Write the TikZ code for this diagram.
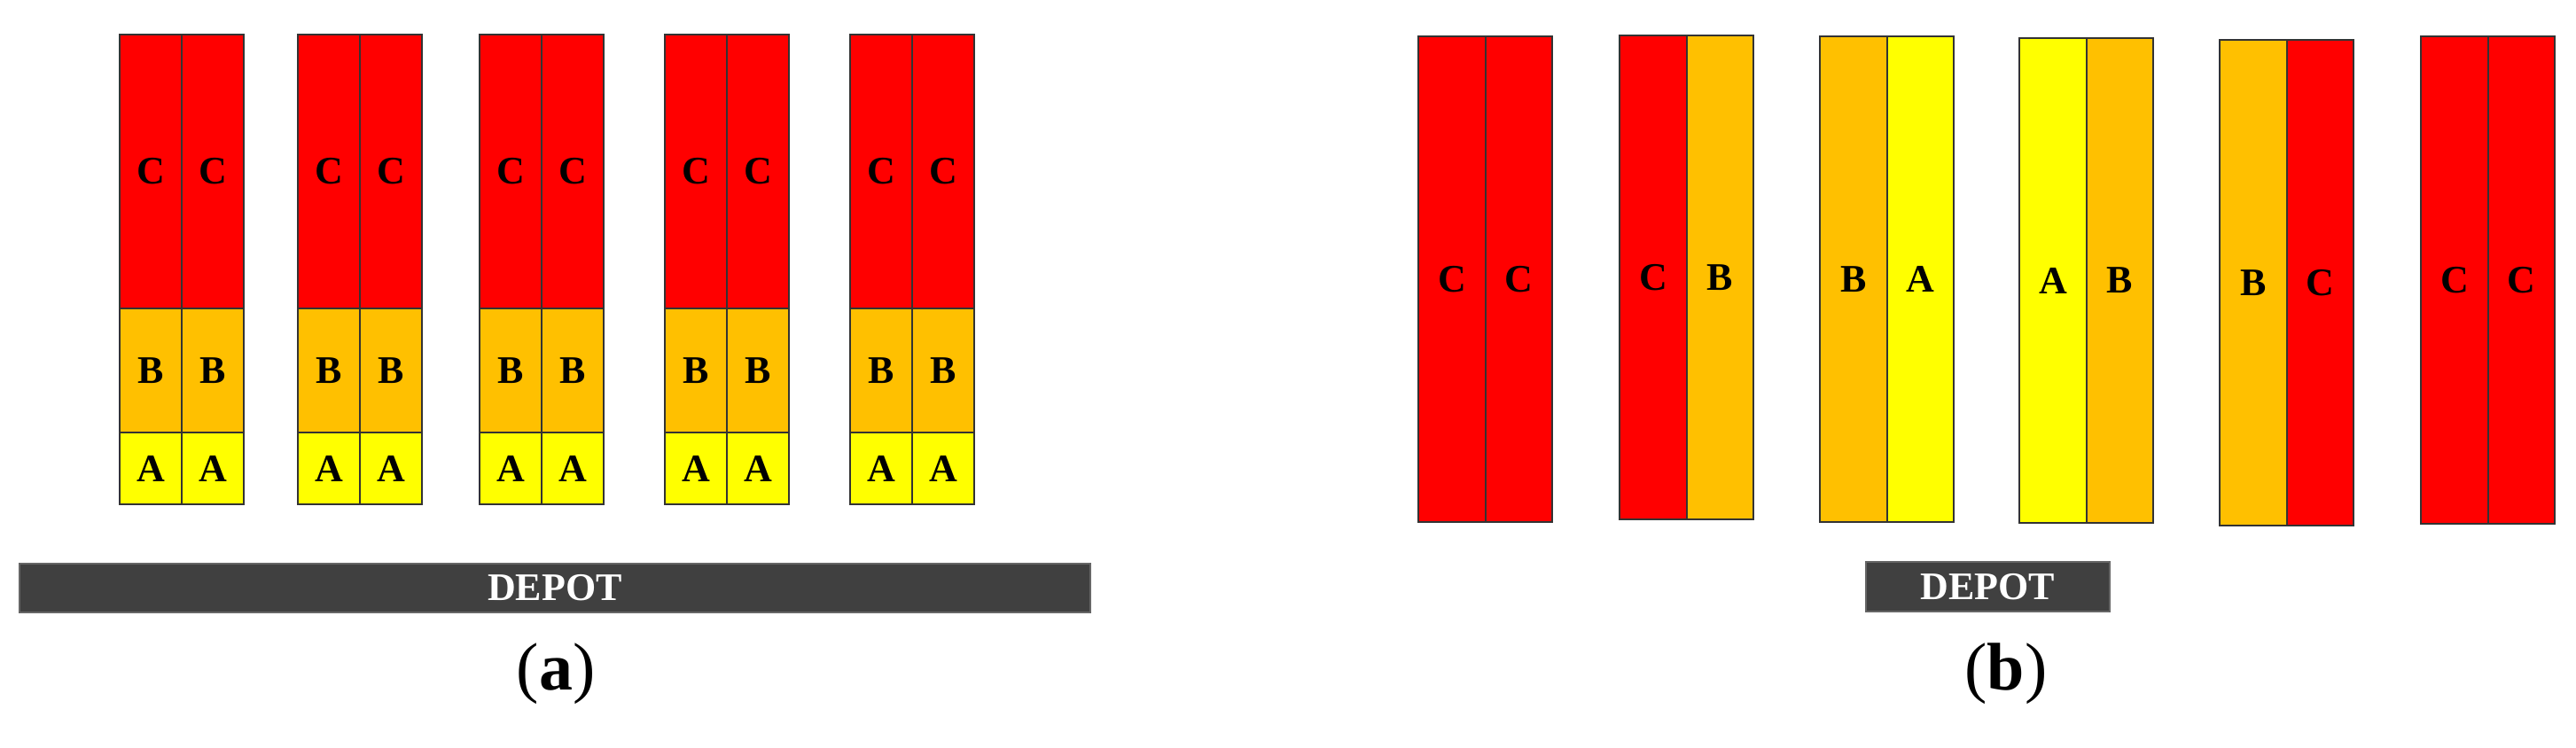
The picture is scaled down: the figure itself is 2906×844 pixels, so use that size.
\documentclass[tikz,border=0pt]{standalone}
\usepackage{fontspec}
\setmainfont{Liberation Serif}
\definecolor{cR}{RGB}{255,0,0}
\definecolor{cB}{RGB}{255,192,0}
\definecolor{cA}{RGB}{255,255,0}
\definecolor{dep}{RGB}{64,64,64}
\tikzset{cellbox/.style={draw=black!80,line width=0.3pt},
 lab/.style={font=\bfseries\fontsize{11}{11}\selectfont},
 caplab/.style={font=\fontsize{19}{19}\selectfont}}
\begin{document}
\begin{tikzpicture}[x=0.25pt,y=-0.25pt]
\useasboundingbox (0,0) rectangle (2906,844);
% (a)
\foreach \gx [count=\g] in {135,336,541,750,959}{
  \foreach \k in {0,1}{
    \pgfmathsetmacro{\xa}{\gx+70*\k}\pgfmathsetmacro{\xb}{\gx+70*\k+70}
    \filldraw[cellbox,fill=cR] (\xa,39) rectangle node[lab] (c\g\k){C} (\xb,348);
    \filldraw[cellbox,fill=cB] (\xa,348) rectangle node[lab] (b\g\k){B} (\xb,488);
    \filldraw[cellbox,fill=cA] (\xa,488) rectangle node[lab] (a\g\k){A} (\xb,569);
  }}
\filldraw[draw=black!60,fill=dep] (22,636) rectangle node[lab,text=white] (depa){DEPOT} (1230,691);
\node[caplab] (capa) at (627,760) {(\textbf{a})};
% (b)
\foreach \gx/\ta/\tb/\ca/\cb/\y/\yy [count=\g] in {
 1600/41/589/cR/cR/C/C, 1827/40/586/cR/cB/C/B, 2053/41/589/cB/cA/B/A,
 2278/43/590/cA/cB/A/B, 2504/45/593/cB/cR/B/C, 2731/41/591/cR/cR/C/C}{
  \filldraw[cellbox,fill=\ca] (\gx,\ta) rectangle node[lab] (l\g){\y} (\gx+76,\tb);
  \filldraw[cellbox,fill=\cb] (\gx+76,\ta) rectangle node[lab] (r\g){\yy} (\gx+151,\tb);
}
\filldraw[draw=black!60,fill=dep] (2105,634) rectangle node[lab,text=white] (depb){DEPOT} (2380,690);
\node[caplab] (capb) at (2263,760) {(\textbf{b})};
\end{tikzpicture}
\end{document}
